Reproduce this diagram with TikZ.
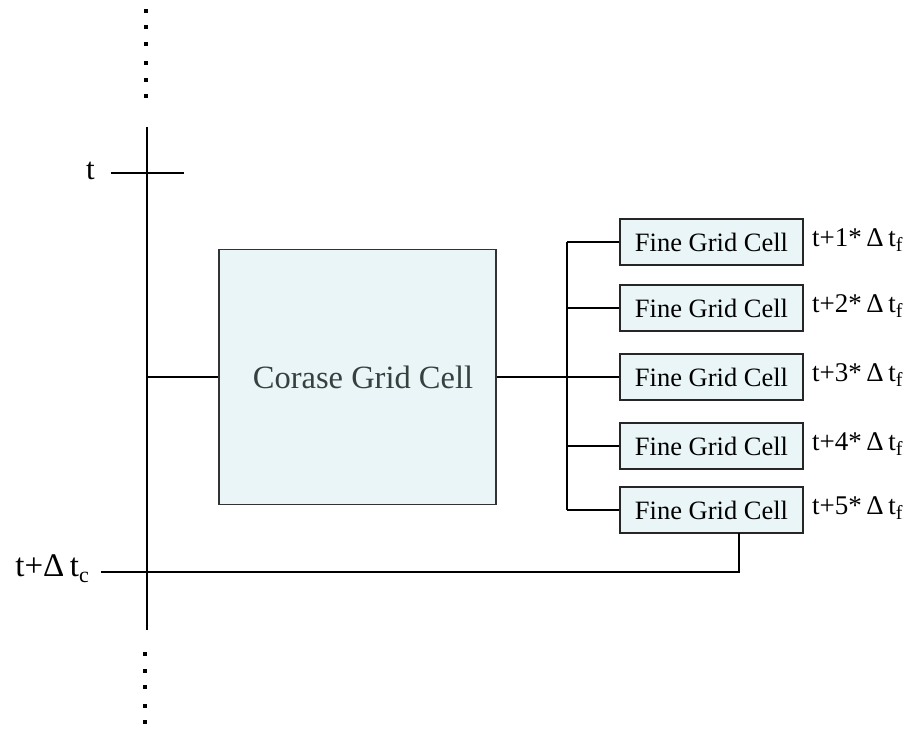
\documentclass[tikz,border=0pt]{standalone}
\usepackage{fontspec}
\setmainfont{Liberation Serif}
\definecolor{cellfill}{HTML}{EAF5F7}
\definecolor{celltext}{HTML}{36403F}
\begin{document}
\begin{tikzpicture}[x=1pt,y=-1pt,
  ln/.style={line width=1.9pt,black},
  coarse/.style={draw=black!80,line width=1.8pt,fill=cellfill,minimum width=277pt,minimum height=255pt,inner sep=0pt,text=celltext,font=\fontsize{32}{36}\selectfont},
  fine/.style={draw=black!85,line width=1.8pt,fill=cellfill,minimum width=183pt,minimum height=46pt,inner sep=0pt,font=\fontsize{26.5}{28}\selectfont},
  lbl/.style={font=\fontsize{27}{28}\selectfont,anchor=west,inner sep=0pt},
  dotsq/.style={fill=black,minimum size=4pt,inner sep=0pt}]
\useasboundingbox (0,0) rectangle (912,729);
% axis
\coordinate (axtop) at (147,127);
\coordinate (axbot) at (147,630);
\draw[ln] (axtop) -- (axbot);
% dots
\foreach \y [count=\i] in {11,27,44,63,80,96}{\node[dotsq] (td\i) at (146,\y) {};}
\foreach \y [count=\i] in {654,671,687,706,722}{\node[dotsq] (bd\i) at (145,\y) {};}
% t tick
\coordinate (tl) at (111,173);
\coordinate (tr) at (184,173);
\draw[ln] (tl) -- (tr);
\node[font=\fontsize{31}{32}\selectfont,anchor=east,inner sep=0pt] (tlab) at (95,171) {t};
% coarse cell
\node[coarse] (C) at (357.5,377) {};
\node[text=celltext,font=\fontsize{32.5}{36}\selectfont,inner sep=0pt] (Ctext) at (363,377) {Corase Grid Cell};
\coordinate (cin) at (147,377);
\draw[ln] (cin) -- (C.west);
% fine cells
\foreach \y/\n in {242/1,308/2,377/3,446/4,510/5}{
  \node[fine] (F\n) at (711.5,\y) {Fine Grid Cell};
  \node[lbl] (L\n) at (812,\y-2) {t+\n*\,Δ\,t\raisebox{-0.35ex}{\fontsize{20}{22}\selectfont f}};
}
\coordinate (bus1) at (567,242);
\coordinate (bus5) at (567,510);
\draw[ln] (bus1) -- (bus5);
\draw[ln] (C.east) -- (F3.west);
\foreach \n in {1,2,4,5}{\draw[ln] (F\n.west -| bus1) -- (F\n.west);}
% t + delta t_c
\coordinate (f5b) at (739,533);
\coordinate (tcend) at (739,572);
\coordinate (tcstart) at (101,572);
\draw[ln] (f5b) -- (tcend) -- (tcstart);
\node[font=\fontsize{33}{34}\selectfont,anchor=east,inner sep=0pt] (tclab) at (89,569) {t+Δ\,t\raisebox{-0.4ex}{\fontsize{22}{24}\selectfont c}};
\end{tikzpicture}
\end{document}
